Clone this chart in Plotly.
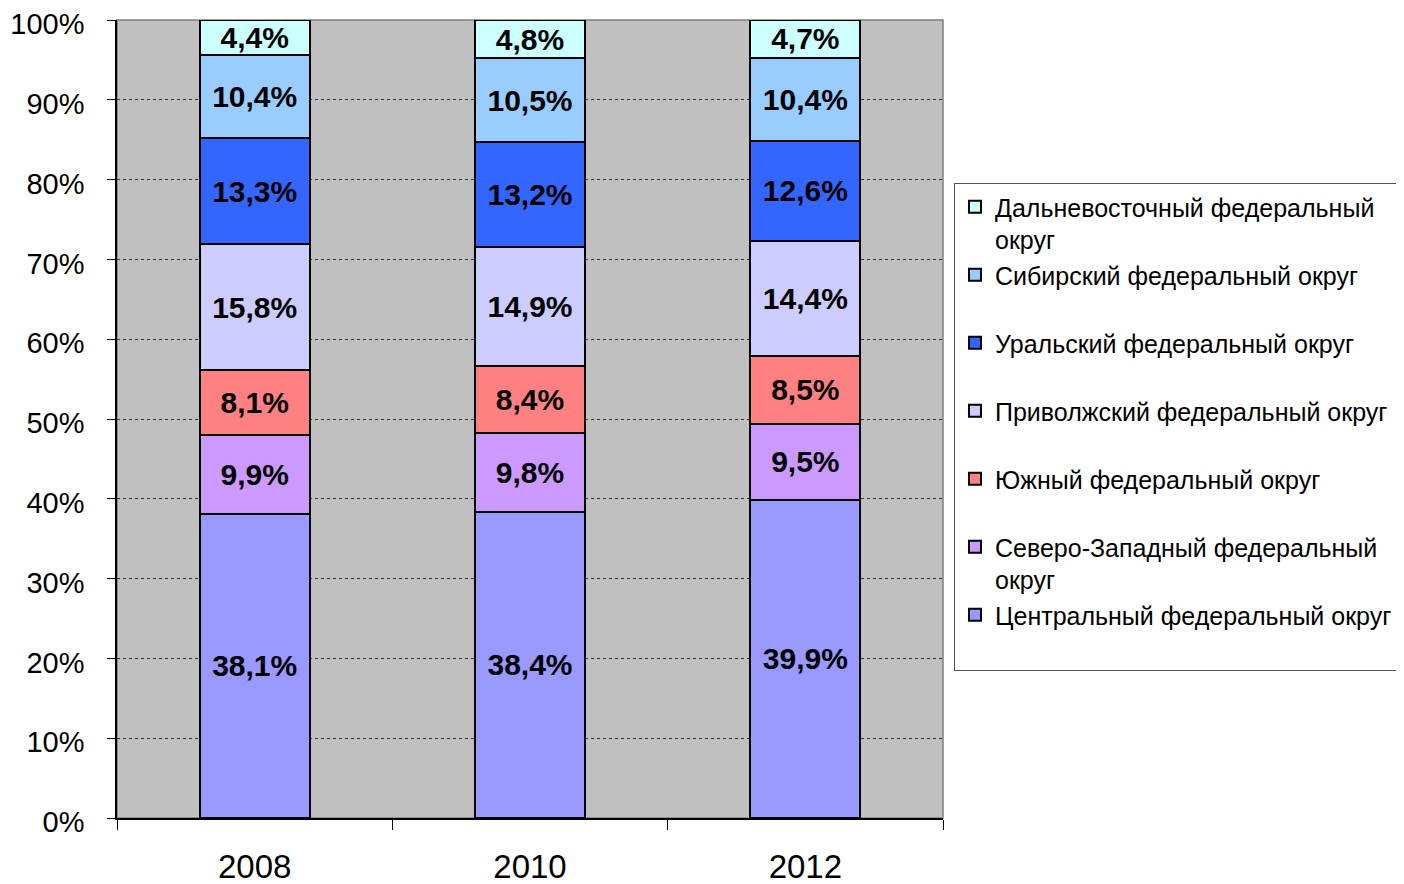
import plotly.graph_objects as go

years = ["2008", "2010", "2012"]
districts = [
    "Центральный федеральный округ",
    "Северо-Западный федеральный<br>округ",
    "Южный федеральный округ",
    "Приволжский федеральный округ",
    "Уральский федеральный округ",
    "Сибирский федеральный округ",
    "Дальневосточный федеральный<br>округ",
]
central = [38.1, 38.4, 39.9]
northwest = [9.9, 9.8, 9.5]
south = [8.1, 8.4, 8.5]
volga = [15.8, 14.9, 14.4]
ural = [13.3, 13.2, 12.6]
siberia = [10.4, 10.5, 10.4]
fareast = [4.4, 4.8, 4.7]
series = [central, northwest, south, volga, ural, siberia, fareast]
colors = ["#9999ff", "#cc99ff", "#ff8080", "#ccccff", "#3366ff", "#99ccff", "#ccffff"]

FONT = "Liberation Sans, Arial, sans-serif"

fig = go.Figure()
for name, vals, col in zip(districts, series, colors):
    label = name if "<br>" in name else name + "<br> "
    fig.add_trace(go.Bar(
        x=years, y=vals, name=label,
        marker=dict(color=col, line=dict(color="#000000", width=2)),
        texttemplate="<b>%{y:.1f}%</b>", textposition="inside",
        insidetextanchor="middle", constraintext="none",
        textfont=dict(family=FONT, size=30, color="#000000"),
        hoverinfo="skip",
    ))

fig.update_layout(
    width=1404, height=884,
    barmode="stack", bargap=0.6,
    separators=", ",
    paper_bgcolor="#ffffff", plot_bgcolor="#c0c0c0",
    margin=dict(l=109, r=469, t=12, b=74, autoexpand=False),
    font=dict(family=FONT, color="#000000"),
    showlegend=True,
    legend=dict(
        x=1.0133, xanchor="left", xref="paper",
        y=0.7957, yanchor="top",
        traceorder="reversed", valign="top",
        font=dict(family=FONT, size=25, color="#000000"),
        bgcolor="#ffffff", bordercolor="#555555", borderwidth=1,
        itemwidth=30, tracegroupgap=0,
    ),
    shapes=[dict(type="rect", xref="paper", yref="paper", x0=0, x1=1, y0=0, y1=1,
                 line=dict(color="#808080", width=1.5), layer="below")],
)
fig.update_xaxes(
    type="category", tickson="boundaries", ticks="outside", ticklen=10,
    tickcolor="#000000", tickwidth=1, showline=True, linecolor="#000000", linewidth=1.5,
    showgrid=False, tickfont=dict(family=FONT, size=33, color="#000000"),
    ticklabelstandoff=19, ticklabeloverflow="allow",
)
fig.update_yaxes(
    range=[0, 100], dtick=10, ticksuffix="%", ticks="outside", ticklen=8,
    tickcolor="#000000", showline=True, linecolor="#000000", linewidth=1.5,
    showgrid=True, gridcolor="#333333", gridwidth=1, griddash="3px,3px",
    tickfont=dict(family=FONT, size=29, color="#000000"),
    ticklabelstandoff=17, ticklabelshift=4, zeroline=False, ticklabeloverflow="allow",
)

fig.write_html("out.html")
